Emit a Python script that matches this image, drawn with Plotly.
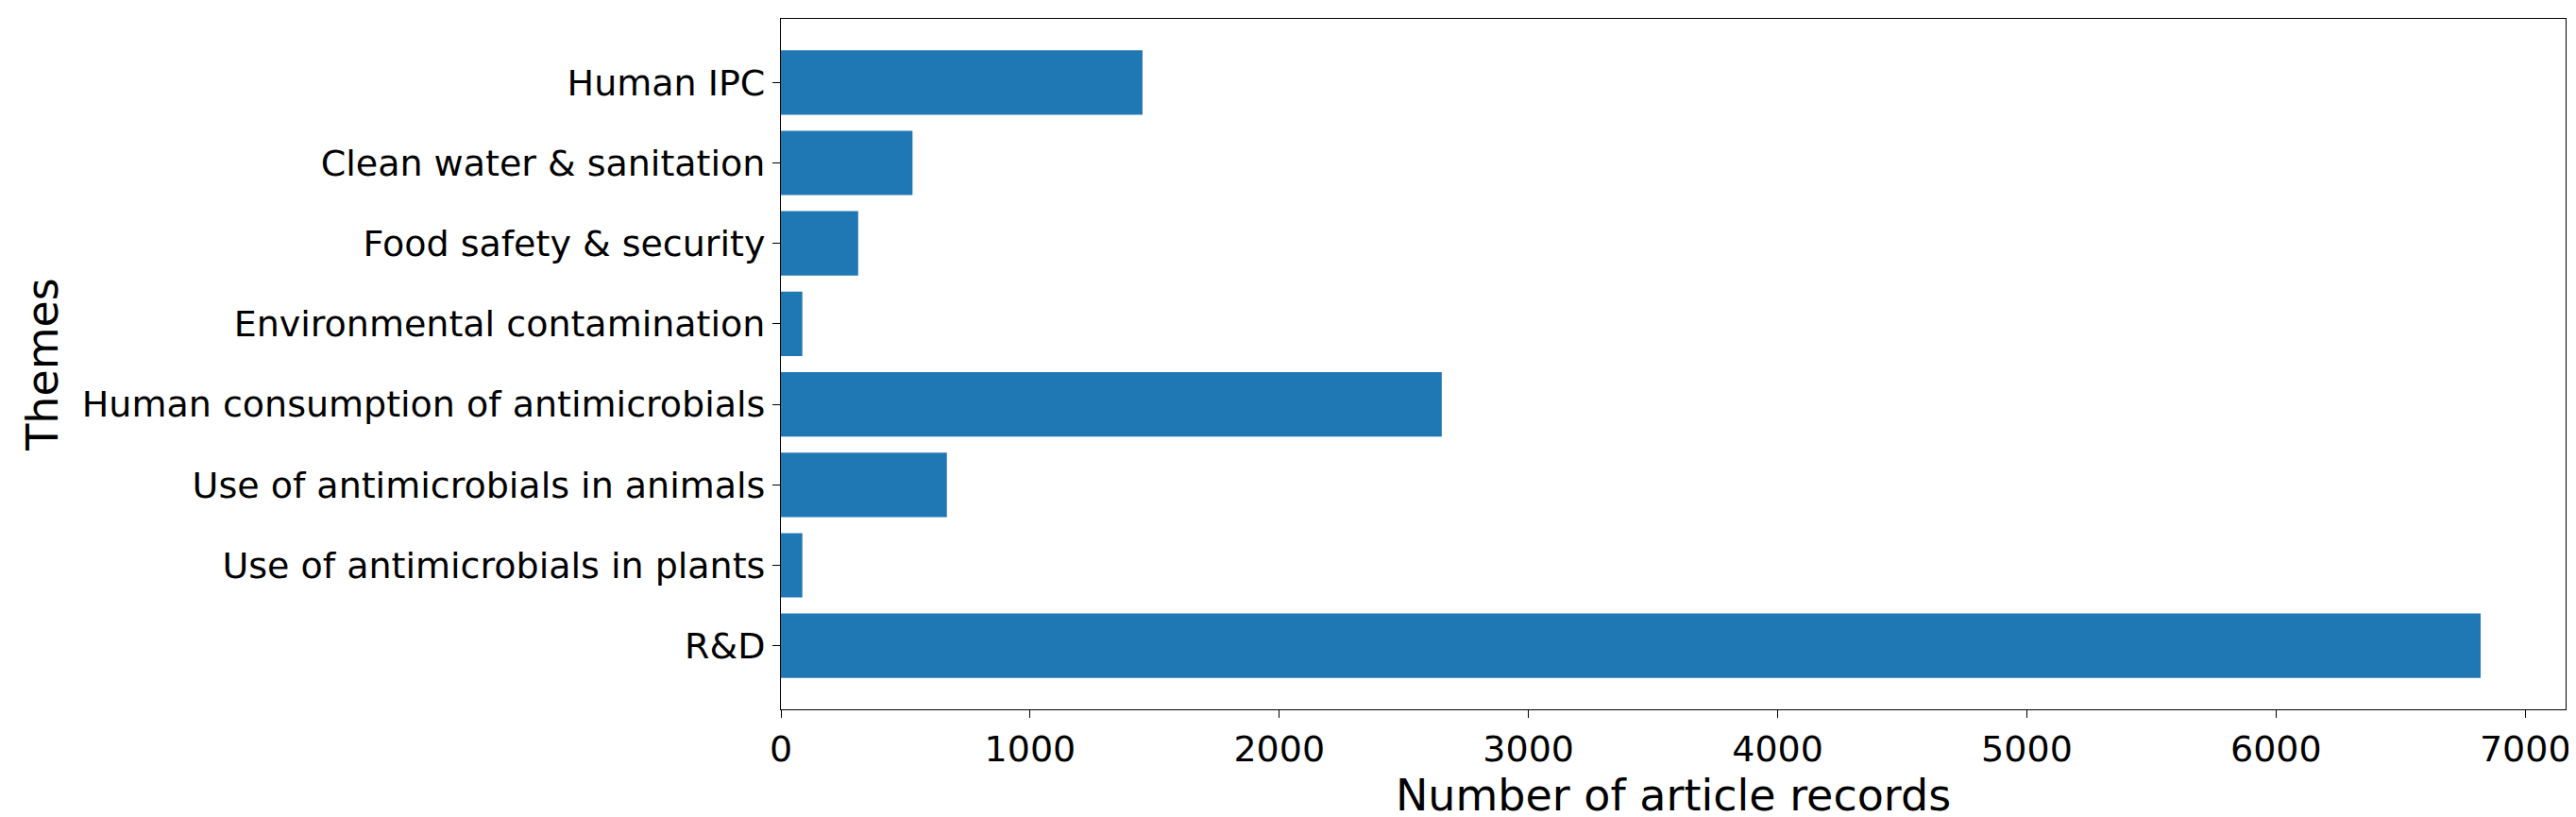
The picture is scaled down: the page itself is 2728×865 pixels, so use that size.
import plotly.graph_objects as go

themes = ["R&D", "Use of antimicrobials in plants", "Use of antimicrobials in animals",
          "Human consumption of antimicrobials", "Environmental contamination",
          "Food safety & security", "Clean water & sanitation", "Human IPC"]
records = [6821, 86, 666, 2652, 86, 310, 528, 1451]

fig = go.Figure(go.Bar(x=records, y=list(range(len(themes))), orientation="h",
                       marker=dict(color="#1f77b4", line=dict(width=0)), width=0.8))
fig.update_layout(
    width=2728, height=865, plot_bgcolor="white", paper_bgcolor="white",
    margin=dict(l=819, r=19, t=12, b=122),
    font=dict(family="DejaVu Sans", size=38, color="black"),
    showlegend=False,
)
fig.update_xaxes(range=[0, 7162], tickvals=[0,1000,2000,3000,4000,5000,6000,7000],
                 showgrid=False, showline=True, linecolor="black", mirror=True,
                 ticks="outside", ticklen=8, tickcolor="black", zeroline=False,
                 title=dict(text="Number of article records", standoff=6))
fig.update_yaxes(range=[-0.79, 7.79], tickvals=list(range(len(themes))), ticktext=themes,
                 showgrid=False, showline=True, linecolor="black", mirror=True,
                 ticks="outside", ticklen=8, tickcolor="black", zeroline=False,
                 title=dict(text="Themes", standoff=10))
fig.write_html("out.html")
